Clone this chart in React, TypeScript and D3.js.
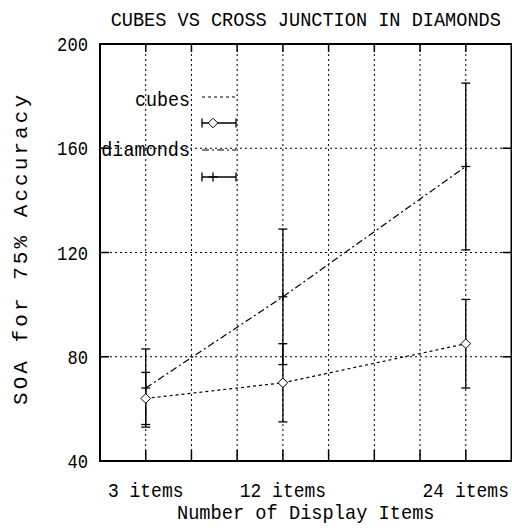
import React from "react";
import * as d3 from "d3";

const title = "CUBES VS CROSS JUNCTION IN DIAMONDS";
const xAxisTitle = "Number of Display Items";
const yAxisTitle = "SOA for 75% Accuracy";
const categories = ["3 items", "12 items", "24 items"];
const itemCounts = [3, 12, 24];
const gridItems = [3, 6, 9, 12, 15, 18, 21, 24];
const yTicks = [40, 80, 120, 160, 200];
const yGrid = [80, 120, 160];
const seriesNames = ["cubes", "diamonds"];
const cubesMean = [64, 70, 85];
const cubesLow = [54, 55, 68];
const cubesHigh = [74, 85, 102];
const crossMean = [68, 103, 153];
const crossLow = [53, 77, 121];
const crossHigh = [83, 129, 185];

const W = 512;
const H = 531;
const L = 100;
const R = 511.5;
const T = 44;
const B = 461;
const FONT = "'Liberation Mono', 'DejaVu Sans Mono', monospace";

function T2({ x, y, s, anchor = "middle", cw = 10.8, size = 21, bold = false }: any) {
  const len = s.length * cw;
  let x0 = x;
  if (anchor === "middle") x0 = x - len / 2;
  if (anchor === "end") x0 = x - len;
  return (
    <text
      x={x0}
      y={y}
      fontFamily={FONT}
      fontSize={size}
      textLength={len}
      lengthAdjust="spacingAndGlyphs"
      fill="#000"
      fontWeight={bold ? "bold" : "normal"}
    >
      {s}
    </text>
  );
}

export default function App() {
  const x = d3.scaleLinear().domain([0, 27]).range([L, R]);
  const y = d3.scaleLinear().domain([40, 200]).range([B, T]);

  const line = d3
    .line<number>()
    .x((_, i) => x(itemCounts[i]))
    .y((d) => y(d));

  const cap = 4.5;
  const dm = 4.8;

  const errBars = (lo: number[], hi: number[], key: string) =>
    itemCounts.map((c, i) => {
      const cx = x(c);
      return (
        <g key={key + i} stroke="#000" strokeWidth={1.3}>
          <line x1={cx} x2={cx} y1={y(lo[i])} y2={y(hi[i])} />
          <line x1={cx - cap} x2={cx + cap} y1={y(lo[i])} y2={y(lo[i])} />
          <line x1={cx - cap} x2={cx + cap} y1={y(hi[i])} y2={y(hi[i])} />
        </g>
      );
    });

  const diamond = (cx: number, cy: number, k: string) => (
    <path
      key={k}
      d={`M${cx - dm},${cy}L${cx},${cy - dm}L${cx + dm},${cy}L${cx},${cy + dm}Z`}
      fill="#fff"
      stroke="#000"
      strokeWidth={1}
    />
  );
  const plus = (cx: number, cy: number, k: string) => (
    <g key={k} stroke="#000" strokeWidth={1.3}>
      <line x1={cx - cap} x2={cx + cap} y1={cy} y2={cy} />
      <line x1={cx} x2={cx} y1={cy - cap} y2={cy + cap} />
    </g>
  );

  const legX1 = 202;
  const legX2 = 236;
  const legM = 213;

  return (
    <svg
      width={W}
      height={H}
      style={{ position: "absolute", left: 0, top: 0, background: "#fff" }}
    >
      <rect x={0} y={0} width={W} height={H} fill="#fff" />
      {/* grid */}
      <g stroke="#000" strokeWidth={1} strokeDasharray="2,3">
        {gridItems.map((g) => (
          <line key={"gx" + g} x1={x(g)} x2={x(g)} y1={T} y2={B} />
        ))}
        {yGrid.map((g) => (
          <line key={"gy" + g} x1={L} x2={R} y1={y(g)} y2={y(g)} />
        ))}
      </g>
      {/* ticks */}
      <g stroke="#000" strokeWidth={1.5}>
        {gridItems.map((g) => (
          <g key={"tx" + g}>
            <line x1={x(g)} x2={x(g)} y1={B} y2={B - 11} />
            <line x1={x(g)} x2={x(g)} y1={T} y2={T + 8} />
          </g>
        ))}
        {yGrid.map((g) => (
          <g key={"ty" + g}>
            <line x1={L} x2={L + 9} y1={y(g)} y2={y(g)} />
            <line x1={R - 9} x2={R} y1={y(g)} y2={y(g)} />
          </g>
        ))}
      </g>
      {/* border */}
      <rect x={L} y={T} width={R - L} height={B - T} fill="none" stroke="#000" strokeWidth={2} />

      {/* series lines */}
      <path d={line(cubesMean) || ""} fill="none" stroke="#000" strokeWidth={1.2} strokeDasharray="3,3" />
      <path d={line(crossMean) || ""} fill="none" stroke="#000" strokeWidth={1.2} strokeDasharray="7,3,2,3" />

      {errBars(cubesLow, cubesHigh, "ce")}
      {errBars(crossLow, crossHigh, "xe")}
      {cubesMean.map((v, i) => diamond(x(itemCounts[i]), y(v), "cd" + i))}
      {crossMean.map((v, i) => plus(x(itemCounts[i]), y(v), "xp" + i))}

      {/* legend */}
      <T2 x={190} y={106} s={seriesNames[0]} anchor="end" cw={11} />
      <line x1={legX1} x2={legX2} y1={97} y2={97} stroke="#000" strokeWidth={1.2} strokeDasharray="3,3" />
      <g stroke="#000" strokeWidth={1.3}>
        <line x1={legX1} x2={legX2} y1={123} y2={123} />
        <line x1={legX1} x2={legX1} y1={123 - cap} y2={123 + cap} />
        <line x1={legX2} x2={legX2} y1={123 - cap} y2={123 + cap} />
      </g>
      {diamond(legM, 123, "ld")}
      <T2 x={190} y={156} s={seriesNames[1]} anchor="end" cw={11.1} />
      <line x1={legX1} x2={legX2} y1={150} y2={150} stroke="#000" strokeWidth={1.2} strokeDasharray="7,3,2,3" />
      <g stroke="#000" strokeWidth={1.3}>
        <line x1={legX1} x2={legX2} y1={177} y2={177} />
        <line x1={legX1} x2={legX1} y1={177 - cap} y2={177 + cap} />
        <line x1={legX2} x2={legX2} y1={177 - cap} y2={177 + cap} />
      </g>
      {plus(legM, 177, "lp")}

      {/* y tick labels */}
      {yTicks.map((t) => (
        <T2 key={"yl" + t} x={88} y={y(t) + 7} s={String(t)} anchor="end" cw={10.3} />
      ))}
      {/* x tick labels */}
      {itemCounts.map((c, i) => (
        <T2 key={"xl" + c} x={x(c)} y={497} s={categories[i]} cw={10.8} />
      ))}
      {/* titles */}
      <T2 x={(L + R) / 2} y={26} s={title} cw={11.15} />
      <T2 x={(L + R) / 2} y={519} s={xAxisTitle} cw={11.2} />
      <text
        transform={`translate(27,${250}) rotate(-90)`}
        x={-155}
        y={0}
        fontFamily={FONT}
        fontSize={21}
        textLength={310}
        lengthAdjust="spacing"
        fill="#000"
      >
        {yAxisTitle}
      </text>
    </svg>
  );
}
